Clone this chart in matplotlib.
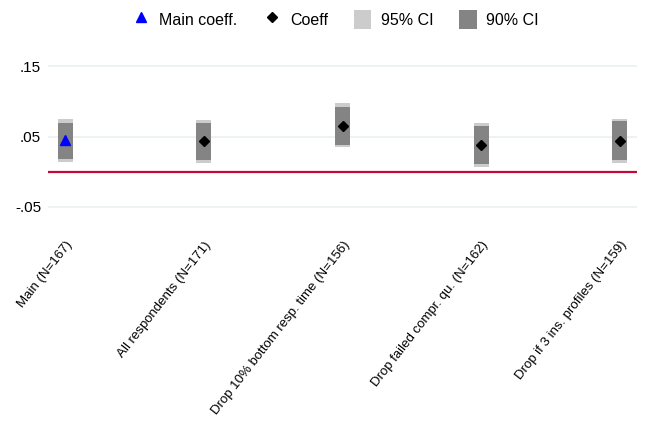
import matplotlib
matplotlib.use("Agg")
import matplotlib.pyplot as plt
from matplotlib.lines import Line2D
from matplotlib.patches import Patch

plt.rcParams["font.family"] = ["Liberation Sans", "DejaVu Sans"]

# Data
labels = [
    "Main (N=167)",
    "All respondents (N=171)",
    "Drop 10% bottom resp. time (N=156)",
    "Drop failed compr. qu. (N=162)",
    "Drop if 3 ins. profiles (N=159)",
]
coef = [0.045, 0.0435, 0.0655, 0.0375, 0.044]
ci95_lo = [0.0142, 0.0130, 0.0355, 0.0062, 0.0119]
ci95_hi = [0.0743, 0.0740, 0.0974, 0.0696, 0.0753]
ci90_lo = [0.0184, 0.0171, 0.0383, 0.0114, 0.0171]
ci90_hi = [0.0690, 0.0686, 0.0922, 0.0643, 0.0714]
yticks = [-0.05, 0.05, 0.15]
ytick_labels = ["-.05", ".05", ".15"]

LIGHT = "#cccccc"
DARK = "#848484"
RED = "#c20a36"
GRID = "#eaf0f4"

fig = plt.figure(figsize=(6.45, 4.3), dpi=100)
ax = fig.add_axes([48 / 645, (430 - 228) / 430, (637 - 48) / 645, (228 - 45) / 430])

x = list(range(len(labels)))
bw = 0.108

for yt in yticks:
    ax.axhline(yt, color=GRID, lw=1.2, zorder=0)

ax.bar(x, [h - l for h, l in zip(ci95_hi, ci95_lo)], bottom=ci95_lo,
       width=bw, color=LIGHT, zorder=2)
ax.bar(x, [h - l for h, l in zip(ci90_hi, ci90_lo)], bottom=ci90_lo,
       width=bw, color=DARK, zorder=3)
ax.axhline(0, color=RED, lw=1.6, zorder=1)

ax.plot(x[:1], coef[:1], marker="^", color="blue", ls="none", ms=7, zorder=4)
ax.plot(x[1:], coef[1:], marker="D", color="black", ls="none", ms=5.5, zorder=4)

ax.set_xlim(-0.126, len(labels) - 1 + 0.126)
ax.set_ylim(-0.08, 0.18)
ax.set_yticks(yticks)
ax.set_yticklabels(ytick_labels, fontsize=11)
ax.set_xticks(x)
ax.set_xticklabels(labels, rotation=52, ha="right", va="top",
                   rotation_mode="anchor", fontsize=9.5)
ax.tick_params(axis="both", length=0)
ax.tick_params(axis="y", pad=5)
ax.tick_params(axis="x", pad=8)
for s in ax.spines.values():
    s.set_visible(False)

handles = [
    Line2D([], [], marker="^", color="blue", ls="none", ms=7),
    Line2D([], [], marker="D", color="black", ls="none", ms=5),
    Patch(facecolor=LIGHT, edgecolor="none"),
    Patch(facecolor=DARK, edgecolor="none"),
]
fig.legend(handles, ["Main coeff.", "Coeff", "95% CI", "90% CI"],
           loc="center", bbox_to_anchor=(0.52, 0.955), ncol=4, frameon=False,
           fontsize=11.5, handlelength=1.1, handleheight=1.4,
           handletextpad=0.6, columnspacing=1.6)

fig.savefig("out.png", dpi=100, facecolor="white")
